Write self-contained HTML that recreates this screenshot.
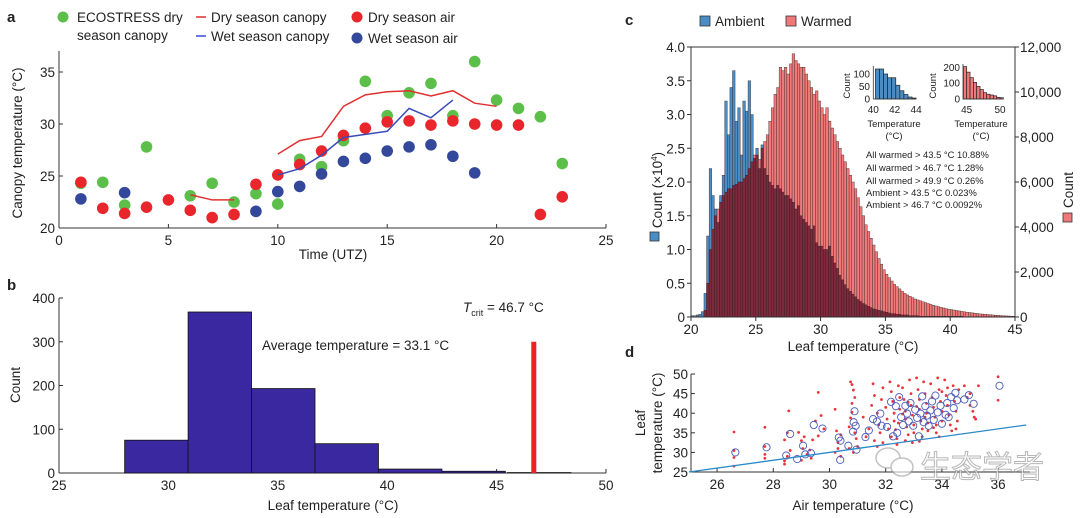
<!DOCTYPE html>
<html><head><meta charset="utf-8">
<style>
html,body{margin:0;padding:0;background:#fff;}
svg{display:block;font-family:"Liberation Sans",Arial,sans-serif;}
text{fill:#222;}
</style></head>
<body>
<svg id="fig" width="1080" height="518" viewBox="0 0 1080 518" xmlns="http://www.w3.org/2000/svg">
<g>
<text x="7" y="22" font-size="15" font-weight="bold">a</text>
<g>
<circle cx="63" cy="17" r="5.5" fill="#5cbf4a"/>
<text x="77" y="22" font-size="13.5">ECOSTRESS dry</text>
<text x="77" y="40" font-size="13.5">season canopy</text>
<line x1="196" y1="17" x2="206" y2="17" stroke="#e03030" stroke-width="1.5"/>
<text x="211" y="22" font-size="13.5">Dry season canopy</text>
<line x1="196" y1="36" x2="206" y2="36" stroke="#3a4ad8" stroke-width="1.5"/>
<text x="211" y="41" font-size="13.5">Wet season canopy</text>
<circle cx="357" cy="17" r="5.5" fill="#e8262c"/>
<text x="368" y="22" font-size="13.5">Dry season air</text>
<circle cx="357" cy="38" r="5.5" fill="#33489a"/>
<text x="368" y="43" font-size="13.5">Wet season air</text>
</g>
<text transform="translate(22,143) rotate(-90)" text-anchor="middle" font-size="13.5">Canopy temperature (°C)</text>
<text x="333" y="259" text-anchor="middle" font-size="13.5">Time (UTZ)</text>
</g>
<g id="ga"></g>
<g>
<text x="7" y="290" font-size="15" font-weight="bold">b</text>
<text transform="translate(20,385) rotate(-90)" text-anchor="middle" font-size="13.5">Count</text>
<text x="333" y="510" text-anchor="middle" font-size="13.5">Leaf temperature (°C)</text>
<text x="262" y="350" font-size="13.5">Average temperature = 33.1 °C</text>
<text x="463" y="312" font-size="13.5"><tspan font-style="italic">T</tspan><tspan font-size="9" dy="4">crit</tspan><tspan dy="-4"> = 46.7 °C</tspan></text>
</g>
<g id="gb"></g>
<g>
<text x="625" y="25" font-size="15" font-weight="bold">c</text>
<rect x="700" y="16" width="10" height="10" fill="#4a8cc4" stroke="#333" stroke-width="0.8"/>
<text x="715" y="26" font-size="13.5">Ambient</text>
<rect x="786" y="16" width="10" height="10" fill="#f07878" stroke="#333" stroke-width="0.8"/>
<text x="801" y="26" font-size="13.5">Warmed</text>
<text transform="translate(662,190) rotate(-90)" text-anchor="middle" font-size="13.5">Count (×10<tspan font-size="8" dy="-5">4</tspan><tspan dy="5">)</tspan></text>
<rect x="650" y="232" width="9" height="9" fill="#4a8cc4" stroke="#333" stroke-width="0.8"/>
<text transform="translate(1073,190) rotate(-90)" text-anchor="middle" font-size="13.5">Count</text>
<rect x="1063" y="213" width="9" height="9" fill="#f07878" stroke="#333" stroke-width="0.8"/>
<text x="853" y="351" text-anchor="middle" font-size="13.5">Leaf temperature (°C)</text>
<g font-size="9.4">
<text x="866" y="158">All warmed &gt; 43.5 °C 10.88%</text>
<text x="866" y="171">All warmed &gt; 46.7 °C 1.28%</text>
<text x="866" y="184">All warmed &gt; 49.9 °C 0.26%</text>
<text x="866" y="196">Ambient &gt; 43.5 °C 0.023%</text>
<text x="866" y="208">Ambient &gt; 46.7 °C 0.0092%</text>
</g>
<text x="894" y="127" text-anchor="middle" font-size="9.5">Temperature</text>
<text x="894" y="139" text-anchor="middle" font-size="9.5">(°C)</text>
<text transform="translate(850,86) rotate(-90)" text-anchor="middle" font-size="9.5">Count</text>
<text x="981" y="127" text-anchor="middle" font-size="9.5">Temperature</text>
<text x="981" y="139" text-anchor="middle" font-size="9.5">(°C)</text>
<text transform="translate(936,86) rotate(-90)" text-anchor="middle" font-size="9.5">Count</text>
</g>
<g id="gc"></g>
<g>
<text x="625" y="357" font-size="15" font-weight="bold">d</text>
<text transform="translate(645,423) rotate(-90)" text-anchor="middle" font-size="13.5">Leaf</text>
<text transform="translate(662,423) rotate(-90)" text-anchor="middle" font-size="13.5">temperature (°C)</text>
<text x="853" y="510" text-anchor="middle" font-size="13.5">Air temperature (°C)</text>
</g>
<g id="gd"></g>
<g opacity="0.6">
<ellipse cx="888" cy="458" rx="12" ry="10" fill="none" stroke="#999" stroke-width="1.5"/>
<ellipse cx="902" cy="467" rx="11" ry="9" fill="#fff" stroke="#999" stroke-width="1.5"/>
<text x="920" y="478" font-size="31" font-family="'Liberation Sans','Noto Sans CJK SC',sans-serif" style="fill:#fff;stroke:#888;stroke-width:1">生态学者</text>
</g>
</svg>
<script>
const aHours = [1,2,3,4,5,6,7,8,9,10,11,12,13,14,15,16,17,18,19,20,21,22,23];
const ecoHours = [1,2,3,4,6,7,8,9,10,11,12,13,14,15,16,17,18,19,20,21,22,23];
const ecoTemps = [24.3,24.4,22.2,27.8,23.1,24.3,22.5,23.3,22.3,26.6,25.9,28.4,34.1,30.8,33.0,33.9,30.8,36.0,32.3,31.5,30.7,26.2];
const dryAirTemps = [24.4,21.9,21.4,22.0,22.7,21.7,21.0,21.3,24.2,25.1,26.1,27.4,28.9,29.6,30.2,30.3,29.9,30.3,30.0,29.9,29.9,21.3,23.0];
const wetAirHours = [1,3,9,10,11,12,13,14,15,16,17,18,19];
const wetAirTemps = [22.8,23.4,21.6,23.5,24.0,25.2,26.4,26.7,27.4,27.8,28.0,26.9,25.3];
const dryCanopyHours1 = [6,7,8];
const dryCanopyTemps1 = [23.2,22.7,22.7];
const dryCanopyHours2 = [10,11,12,13,14,15,16,17,18,19,20];
const dryCanopyTemps2 = [27.1,28.4,28.8,31.7,32.8,33.1,33.2,32.7,33.2,32.0,31.7];
const wetCanopyHours = [10,11,12,13,14,15,16,17,18];
const wetCanopyTemps = [25.1,25.7,27.0,28.7,29.0,29.3,31.5,30.6,32.3];
const aXTicks = [0,5,10,15,20,25];
const aYTicks = [20,25,30,35];
const bBinStarts = [28.0,30.9,33.8,36.7,39.6,42.5,45.5];
const bBinWidth = 2.9;
const bCounts = [75,368,193,67,9,4,1];
const tcrit = 46.7;
const tcritHeight = 300;
const bXTicks = [25,30,35,40,45,50];
const bYTicks = [0,100,200,300,400];
const cBinStart = 20.0;
const cBinWidth = 0.2;
const ambientCounts = [0.02,0.02,0.03,0.04,0.08,
0.35,1.2,2.2,1.8,1.6, 1.4,1.8,2.1,3.2,2.7, 3.4,3.65,2.9,3.1,2.4, 3.2,3.05,3.5,3.0,2.35,
2.5,2.2,2.55,2.2,2.1, 2.0,1.95,1.9,1.95,1.9, 1.85,1.8,1.8,1.75,1.7, 1.6,1.65,1.5,1.45,1.4,
1.35,1.3,1.35,1.1,1.05, 1.05,1.0,1.0,1.05,0.9, 0.8,0.72,0.62,0.55,0.48, 0.42,0.38,0.34,0.3,0.26,
0.23,0.2,0.18,0.16,0.14, 0.12,0.11,0.1,0.09,0.08, 0.07,0.06,0.05,0.05,0.04, 0.04,0.03,0.03,0.03,0.02,
0.02,0.02,0.02,0.01,0.01, 0.01,0.01,0.01,0.01,0.01, 0.01,0.01,0.01,0.01,0.01, 0.01,0.01,0.01,0.01,0.01,
0.005,0.005,0.005,0.005,0.005, 0.005,0.005,0.005,0.005,0.005, 0.005,0.005,0.005,0.005,0.005, 0.005,0.005,0.005,0.005,0.005];
const warmedCounts = [0,0,0,0,0,
300,1500,3000,3900,4500, 4800,5100,5400,5550,5700, 5700,5850,5900,6000,6000, 6150,6300,6600,6900,7200,
7200,7000,7500,7800,8100, 8700,9300,9900,10200,11100, 10950,11100,10800,11250,11700, 11400,11250,11100,11100,10800,
10500,10200,9900,10050,9600, 9300,9000,9300,8700,8400, 8100,7800,7500,7200,6900, 6600,6300,6000,5700,5300,
4900,4500,4100,3800,3500, 3200,2900,2600,2350,2100, 1900,1750,1600,1450,1350, 1250,1150,1050,980,920,
860,800,760,720,680, 640,600,560,520,490, 460,430,400,370,350, 330,310,290,270,250,
230,215,200,185,170, 155,140,130,120,110, 100,90,80,72,65, 58,50,44,38,32];
const cXTicks = [20,25,30,35,40,45];
const cLeftTicks = [0,0.5,1.0,1.5,2.0,2.5,3.0,3.5,4.0];
const cLeftTickLabels = ['0','0.5','1.0','1.5','2.0','2.5','3.0','3.5','4.0'];
const cRightTicks = [0,2000,4000,6000,8000,10000,12000];
const cRightTickLabels = ['0','2,000','4,000','6,000','8,000','10,000','12,000'];
const insetAmbStart = 40.2;
const insetAmbWidth = 0.38;
const insetAmbCounts = [120,120,100,85,85,55,33,18,8,4];
const insetAmbXTicks = [40,42,44];
const insetAmbYTicks = [0,50,100];
const insetWarmStart = 44.5;
const insetWarmWidth = 0.5;
const insetWarmCounts = [205,170,135,105,80,60,40,30,25,20,10,8];
const insetWarmXTicks = [45,50];
const insetWarmYTicks = [0,100,200];
const circleAir = [26.65,27.76,28.46,28.6,28.85,29.06,29.14,29.34,29.44,29.75,30.33,30.39,30.38,30.67,30.84,30.86,30.89,30.93,30.96,31.28,31.4,31.55,31.69,31.81,31.85,32.05,32.19,32.26,32.36,32.41,32.48,32.55,32.62,32.7,32.76,32.82,32.88,32.98,33.05,33.12,33.18,33.24,33.3,33.35,33.41,33.47,33.53,33.59,33.65,33.71,33.77,33.85,33.95,34.0,34.13,34.19,34.24,34.33,34.42,34.48,34.54,34.8,34.96,35.13,36.05];
const circleLeaf = [30.0,31.3,29.2,34.7,28.3,31.7,29.5,29.8,37.0,36.1,33.8,33.0,28.1,31.7,35.3,37.7,40.5,36.8,30.7,33.9,35.6,38.5,37.9,39.9,36.8,36.5,42.9,34.1,41.8,35.0,44.1,39.0,37.0,41.9,39.9,37.9,42.6,36.8,40.9,38.8,34.1,39.9,44.3,37.7,41.8,39.4,36.8,40.7,43.0,38.3,44.5,40.2,41.9,37.3,39.6,42.6,39.0,44.1,41.3,45.2,43.3,43.5,44.6,42.4,47.0];
const dotAir = [26.6,26.6,26.6,26.6,27.7,27.7,27.7,27.7,28.4,28.4,28.4,28.5,28.55,28.6,28.5,28.9,29.0,29.1,29.05,29.2,29.3,29.35,29.0,29.5,29.6,29.7,29.6,29.4,29.8,30.2,30.25,30.3,30.3,30.4,30.4,30.2,30.7,30.75,30.8,30.85,30.9,30.8,30.8,30.75,30.9,30.95,31.0,30.85,30.7,31.2,31.3,31.4,31.5,31.55,31.6,31.7,31.75,31.8,31.6,31.9,31.85,31.9,31.7,32.0,32.05,32.1,32.15,32.2,32.25,32.3,32.3,32.35,32.4,32.4,32.45,32.5,32.5,32.45,32.2,32.6,32.65,32.7,32.7,32.75,32.8,32.85,32.9,32.9,32.95,33.0,33.0,32.7,32.8,32.6,32.95,33.1,33.15,33.2,33.2,33.25,33.3,33.3,33.35,33.4,33.45,33.45,33.5,33.5,33.2,33.4,33.1,33.6,33.65,33.7,33.75,33.8,33.8,33.85,33.9,33.95,34.0,34.0,33.7,33.9,34.0,34.1,34.15,34.2,34.25,34.3,34.35,34.4,34.45,34.5,34.55,34.6,34.5,34.2,34.8,34.9,35.0,35.1,35.15,35.0,35.2,35.3,36.0,36.0];
const dotLeaf = [35.2,30.5,28.7,26.5,36.4,31.5,29.5,28.5,33.2,27.8,27.0,35.0,40.6,30.5,29.0,35.1,33.0,34.0,31.0,29.5,30.6,28.5,28.0,38.0,45.3,39.4,34.2,33.2,36.0,41.0,35.5,32.5,31.0,29.0,34.5,30.0,36.5,48.0,47.3,45.9,44.0,42.5,40.2,38.8,35.0,33.5,31.5,30.0,31.0,39.0,34.0,36.0,42.0,47.5,44.5,40.0,37.0,35.0,33.0,46.5,43.5,32.5,31.5,41.5,38.5,36.0,48.0,45.5,43.0,40.0,38.0,35.8,33.5,32.0,47.0,44.0,41.0,37.5,34.0,46.5,43.5,40.5,38.5,36.5,34.5,48.5,45.0,42.0,39.5,37.0,35.0,33.0,42.8,39.8,32.5,49.0,46.0,43.5,41.0,38.0,36.0,34.0,48.0,45.0,42.5,40.0,37.5,35.5,32.8,39.0,41.7,47.5,44.0,41.5,39.0,37.0,35.0,49.0,46.0,43.0,40.5,38.0,36.3,34.0,45.5,48.5,44.5,42.0,39.5,37.0,35.5,47.0,43.0,40.5,38.0,46.0,36.0,46.5,47.0,44.0,42.0,40.5,39.0,45.0,38.5,47.0,49.3,43.3];
const oneToOne = [25,37];
const dXTicks = [26,28,30,32,34,36];
const dYTicks = [25,30,35,40,45,50];

const NS = 'http://www.w3.org/2000/svg';
function mk(parent, tag, attrs){
  const e = document.createElementNS(NS, tag);
  for (const k in attrs) e.setAttribute(k, attrs[k]);
  parent.appendChild(e);
  return e;
}
function txt(parent, x, y, s, size, anchor){
  const e = mk(parent, 'text', {x:x, y:y, 'font-size':size, 'text-anchor':anchor});
  e.textContent = s;
  return e;
}
function polyPts(xs, ys, fx, fy){ return xs.map((v,i)=>fx(v)+','+fy(ys[i])).join(' '); }

const ga = document.getElementById('ga');
const ax = t => 59 + t*21.88;
const ay = v => 228 - (v-20)*10.4;
let el;
el = mk(ga,'line',{x1:59,y1:51,x2:59,y2:228,stroke:'#333','stroke-width':1});


el = mk(ga,'line',{x1:59,y1:228,x2:606,y2:228,stroke:'#333','stroke-width':1});


aXTicks.forEach(t=>{
  el = mk(ga,'line',{x1:ax(t),y1:228,x2:ax(t),y2:224,stroke:'#333'});
  
  
  el = txt(ga, ax(t), 245, String(t), 13.5, 'middle');
  
  
});
aYTicks.forEach(v=>{
  el = mk(ga,'line',{x1:59,y1:ay(v),x2:63,y2:ay(v),stroke:'#333'});
  
  
  el = txt(ga, 55, ay(v)+5, String(v), 13.5, 'end');
  
  
});
ecoHours.forEach((h,i)=>{
  el = mk(ga,'circle',{cx:ax(h),cy:ay(ecoTemps[i]),r:5.8,fill:'#5cbf4a'});
  
  
});
aHours.forEach((h,i)=>{
  el = mk(ga,'circle',{cx:ax(h),cy:ay(dryAirTemps[i]),r:5.8,fill:'#e8262c'});
  
  
});
wetAirHours.forEach((h,i)=>{
  el = mk(ga,'circle',{cx:ax(h),cy:ay(wetAirTemps[i]),r:5.8,fill:'#33489a'});
  
  
});
el = mk(ga,'polyline',{points:polyPts(dryCanopyHours1,dryCanopyTemps1,ax,ay),fill:'none',stroke:'#e03030','stroke-width':1.5});


el = mk(ga,'polyline',{points:polyPts(dryCanopyHours2,dryCanopyTemps2,ax,ay),fill:'none',stroke:'#e03030','stroke-width':1.5});


el = mk(ga,'polyline',{points:polyPts(wetCanopyHours,wetCanopyTemps,ax,ay),fill:'none',stroke:'#3a4ab8','stroke-width':1.5});



const gb = document.getElementById('gb');
const bx = t => 59 + (t-25)*21.88;
const by = v => 473 - v*0.4375;
el = mk(gb,'line',{x1:59,y1:298,x2:59,y2:473,stroke:'#333'});


el = mk(gb,'line',{x1:59,y1:473,x2:606,y2:473,stroke:'#333'});


bXTicks.forEach(t=>{
  el = mk(gb,'line',{x1:bx(t),y1:473,x2:bx(t),y2:469,stroke:'#333'});
  
  
  el = txt(gb, bx(t), 490, String(t), 13.5, 'middle');
  
  
});
bYTicks.forEach(v=>{
  el = mk(gb,'line',{x1:59,y1:by(v),x2:63,y2:by(v),stroke:'#333'});
  
  
  el = txt(gb, 55, by(v)+5, String(v), 13.5, 'end');
  
  
});
bBinStarts.forEach((s,i)=>{
  el = mk(gb,'rect',{x:bx(s),y:by(bCounts[i]),width:bBinWidth*21.88,height:bCounts[i]*0.4375,fill:'#3a28a0',stroke:'#111','stroke-width':0.8});
  
  
});
el = mk(gb,'rect',{x:bx(tcrit)-2.5,y:by(tcritHeight),width:5,height:tcritHeight*0.4375,fill:'#ee2222'});



const gc = document.getElementById('gc');
const cx = t => 691 + (t-20)*12.96;
const cyL = v => 317 - v*67.5;
const cyR = v => 317 - v/3000*67.5;
const bw = cBinWidth*12.96;
ambientCounts.forEach((a,i)=>{
  const x0 = cx(cBinStart + i*cBinWidth);
  const w = warmedCounts[i]/3000;
  const hi = Math.max(a,w), lo = Math.min(a,w);
  const topColor = a > w ? '#4a8cc4' : '#f07878';
  el = mk(gc,'rect',{x:x0,y:cyL(hi),width:bw,height:hi*67.5,fill:topColor,stroke:'#3a2a2a','stroke-width':0.4});
  
  
  el = mk(gc,'rect',{x:x0,y:cyL(lo),width:bw,height:lo*67.5,fill:'#7e2a3c',stroke:'#3a1a22','stroke-width':0.4});
  
  
});
el = mk(gc,'rect',{x:691,y:47,width:324,height:270,fill:'none',stroke:'#333','stroke-width':1});


cXTicks.forEach(t=>{
  el = mk(gc,'line',{x1:cx(t),y1:317,x2:cx(t),y2:321,stroke:'#333'});
  
  
  el = txt(gc, cx(t), 334, String(t), 13.5, 'middle');
  
  
});
cLeftTicks.forEach((v,i)=>{
  el = mk(gc,'line',{x1:687,y1:cyL(v),x2:691,y2:cyL(v),stroke:'#333'});
  
  
  el = txt(gc, 685, cyL(v)+5, cLeftTickLabels[i], 13.5, 'end');
  
  
});
cRightTicks.forEach((v,i)=>{
  el = mk(gc,'line',{x1:1015,y1:cyR(v),x2:1019,y2:cyR(v),stroke:'#333'});
  
  
  el = txt(gc, 1020, cyR(v)+5, cRightTickLabels[i], 13.5, 'start');
  
  
});
const i1x = t => 873.3 + (t-40)*10.7;
const i1y = v => 99 - v*0.25;
insetAmbCounts.forEach((c,i)=>{
  el = mk(gc,'rect',{x:i1x(insetAmbStart+i*insetAmbWidth),y:i1y(c),width:insetAmbWidth*10.7,height:c*0.25,fill:'#4a8cc4',stroke:'#222','stroke-width':0.7});
  
  
});
el = mk(gc,'polyline',{points:'873.3,66 873.3,99 916,99',fill:'none',stroke:'#333','stroke-width':0.8});


insetAmbXTicks.forEach(t=>{
  el = txt(gc, i1x(t), 113, String(t), 10, 'middle');
  
  
});
insetAmbYTicks.forEach(v=>{
  el = txt(gc, 870, i1y(v)+3.5, String(v), 10, 'end');
  
  
});
const i2x = t => 966.7 + (t-45)*6.67;
const i2y = v => 99 - v*0.158;
insetWarmCounts.forEach((c,i)=>{
  el = mk(gc,'rect',{x:i2x(insetWarmStart+i*insetWarmWidth),y:i2y(c),width:insetWarmWidth*6.67,height:c*0.158,fill:'#f07878',stroke:'#222','stroke-width':0.7});
  
  
});
el = mk(gc,'polyline',{points:'963,64 963,99 1003,99',fill:'none',stroke:'#333','stroke-width':0.8});


insetWarmXTicks.forEach(t=>{
  el = txt(gc, i2x(t), 113, String(t), 10, 'middle');
  
  
});
insetWarmYTicks.forEach(v=>{
  el = txt(gc, 960, i2y(v)+3.5, String(v), 10, 'end');
  
  
});

const gd = document.getElementById('gd');
const dx = t => 689 + (t-25)*28.1;
const dy = v => 472 - (v-25)*3.92;
el = mk(gd,'line',{x1:691,y1:374,x2:691,y2:472,stroke:'#333'});


el = mk(gd,'line',{x1:691,y1:472,x2:1030,y2:472,stroke:'#333'});


dXTicks.forEach(t=>{
  el = mk(gd,'line',{x1:dx(t),y1:472,x2:dx(t),y2:468,stroke:'#333'});
  
  
  el = txt(gd, dx(t), 489, String(t), 13.5, 'middle');
  
  
});
dYTicks.forEach(v=>{
  el = mk(gd,'line',{x1:691,y1:dy(v),x2:695,y2:dy(v),stroke:'#333'});
  
  
  el = txt(gd, 688, dy(v)+5, String(v), 13.5, 'end');
  
  
});
dotAir.forEach((a,i)=>{
  el = mk(gd,'circle',{cx:dx(a),cy:dy(dotLeaf[i]),r:1.4,fill:'#e8343a'});
  
  
});
circleAir.forEach((a,i)=>{
  el = mk(gd,'circle',{cx:dx(a),cy:dy(circleLeaf[i]),r:3.6,fill:'none',stroke:'#4a5ab8','stroke-width':0.9});
  
  
});
el = mk(gd,'line',{x1:dx(oneToOne[0]),y1:dy(oneToOne[0]),x2:dx(oneToOne[1]),y2:dy(oneToOne[1]),stroke:'#2a8ac8','stroke-width':1.3});


</script>
</body></html>
